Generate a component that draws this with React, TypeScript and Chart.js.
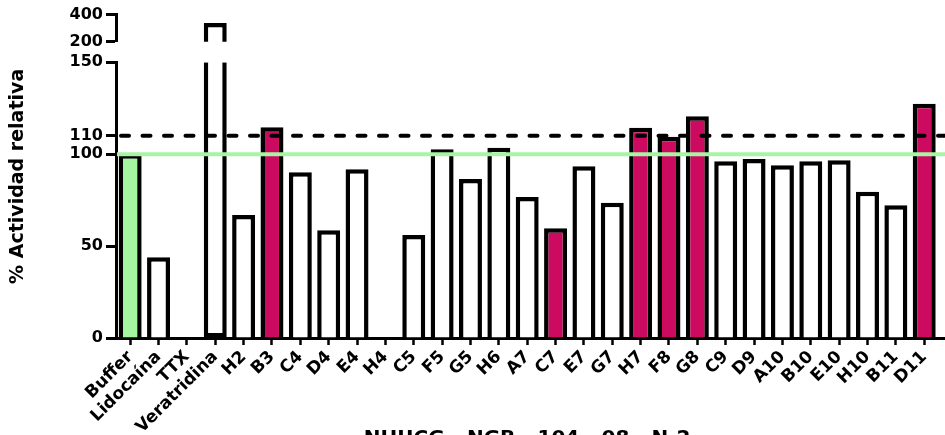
import React, { useEffect, useRef } from 'react';
import { Chart, registerables } from 'chart.js';

Chart.register(...registerables);

// ---------- data ----------
const categories = [
  'Buffer', 'Lidocaína', 'TTX', 'Veratridina', 'H2', 'B3', 'C4', 'D4', 'E4', 'H4',
  'C5', 'F5', 'G5', 'H6', 'A7', 'C7', 'E7', 'G7', 'H7', 'F8',
  'G8', 'C9', 'D9', 'A10', 'B10', 'E10', 'H10', 'B11', 'D11',
];
const activity = [
  100, 43.9, 0, 338, 66.9, 114.6, 90.2, 58.6, 91.8, 0,
  56.0, 102.7, 86.5, 103.5, 76.7, 59.7, 93.4, 73.6, 114.4, 109.5,
  120.6, 96.1, 97.4, 94.0, 96.1, 96.7, 79.6, 72.2, 127.5,
];
const controlCategory = 'Buffer';
const highlighted = ['B3', 'C7', 'H7', 'F8', 'G8', 'D11'];
const lowerTicks = [0, 50, 100, 110, 150];
const upperTicks = [200, 400];
const bufferLevel = 100;
const thresholdLevel = 110;
const yTitle = '% Actividad relativa';
const xTitle = 'NHUCG - NGB - 104 - 08 - N-2';

// ---------- styles ----------
const FONT = 'DejaVu Sans';
const GREEN_FILL = '#a4f5a0';
const GREEN_LINE = '#a8f4a4';
const MAGENTA = '#cc0a5f';
const BLACK = '#000000';

const lowerMin = lowerTicks[0];
const lowerMax = lowerTicks[lowerTicks.length - 1];
const upperMin = upperTicks[0];
const upperMax = upperTicks[upperTicks.length - 1];

const fillFor = (i: number) => {
  const c = categories[i];
  if (c === controlCategory) return GREEN_FILL;
  if (highlighted.includes(c)) return MAGENTA;
  return '#ffffff';
};

const refLinesPlugin = {
  id: 'refLines',
  afterDatasetsDraw(chart: any) {
    const { ctx, chartArea } = chart;
    const y = chart.scales.y;
    ctx.save();
    // continuation of the x axis line to the right edge
    const by = Math.round(chartArea.bottom - 1.5) + 1.5;
    ctx.strokeStyle = BLACK;
    ctx.lineWidth = 3;
    ctx.beginPath();
    ctx.moveTo(chartArea.right - 2, by);
    ctx.lineTo(chart.width, by);
    ctx.stroke();
    // buffer reference line
    const gy = y.getPixelForValue(bufferLevel);
    ctx.strokeStyle = GREEN_LINE;
    ctx.lineWidth = 4;
    ctx.beginPath();
    ctx.moveTo(chartArea.left + 1, gy);
    ctx.lineTo(chart.width, gy);
    ctx.stroke();
    // threshold dashed line
    const dy = y.getPixelForValue(thresholdLevel);
    ctx.strokeStyle = BLACK;
    ctx.lineWidth = 4;
    ctx.lineCap = 'round';
    ctx.setLineDash([8, 13.5]);
    ctx.beginPath();
    ctx.moveTo(chartArea.left + 5, dy);
    ctx.lineTo(chart.width, dy);
    ctx.stroke();
    ctx.restore();
  },
};

const tickFont = { family: FONT, size: 16, weight: 'bold' as const };
const Y_SCALE_WIDTH = 86.6;

const yCommon = {
  type: 'linear' as const,
  position: 'left' as const,
  stack: 'activity',
  grid: { display: true, drawOnChartArea: false, tickLength: 10, tickWidth: 3, tickColor: BLACK },
  border: { display: true, color: BLACK, width: 3 },
  ticks: { padding: 3, color: BLACK, font: tickFont, autoSkip: false },
  afterFit: (s: any) => { s.width = Y_SCALE_WIDTH; },
};

const barStyle = {
  backgroundColor: (c: any) => fillFor(c.dataIndex),
  borderColor: BLACK,
  borderWidth: 4.5,
  barPercentage: 0.81,
  categoryPercentage: 1,
  grouped: false,
};

export default function App() {
  const ref = useRef<HTMLCanvasElement | null>(null);

  useEffect(() => {
    if (!ref.current) return;
    const chart = new Chart(ref.current, {
      type: 'bar',
      data: {
        labels: categories,
        datasets: [
          {
            ...barStyle,
            data: activity.map((v) => Math.min(v, lowerMax)),
            yAxisID: 'y',
            borderSkipped: (c: any) => (activity[c.dataIndex] > lowerMax ? 'end' : 'start'),
          } as any,
          {
            ...barStyle,
            data: activity.map((v) => (v > lowerMax ? v : null)),
            yAxisID: 'y2',
            borderSkipped: 'start',
          } as any,
        ],
      },
      options: {
        responsive: false,
        animation: false,
        devicePixelRatio: 1,
        layout: { padding: { top: 14.7, right: 6.6, bottom: 0, left: 0 } },
        plugins: {
          legend: { display: false },
          tooltip: { enabled: false },
          title: {
            display: true,
            position: 'left',
            fullSize: false,
            text: yTitle,
            color: BLACK,
            font: { family: FONT, size: 19, weight: 'bold' },
            padding: { top: 6.6, bottom: 0 },
          },
        },
        scales: {
          x: {
            type: 'category',
            offset: true,
            grid: { display: true, drawOnChartArea: false, offset: false, tickLength: 7, tickWidth: 2.5, tickColor: BLACK },
            border: { display: true, color: BLACK, width: 3 },
            ticks: {
              autoSkip: false,
              maxRotation: 45,
              minRotation: 45,
              padding: 2,
              color: BLACK,
              font: { family: FONT, size: 17, weight: 'bold' },
            },
            title: {
              display: true,
              text: xTitle,
              color: BLACK,
              font: { family: FONT, size: 20, weight: 'bold' },
              padding: { top: 0, bottom: 1.5 },
            },
            afterFit: (s: any) => { s.height = 114; },
          },
          y: {
            ...yCommon,
            stackWeight: 275.7,
            min: lowerMin,
            max: lowerMax,
            afterBuildTicks: (s: any) => { s.ticks = lowerTicks.map((value) => ({ value })); },
          },
          ygap: {
            type: 'linear',
            position: 'left',
            stack: 'activity',
            stackWeight: 20.6,
            min: 0,
            max: 1,
            grid: { display: false },
            border: { display: false },
            ticks: { display: false },
            afterFit: (s: any) => { s.width = Y_SCALE_WIDTH; },
          },
          y2: {
            ...yCommon,
            stackWeight: 27,
            min: upperMin,
            max: upperMax,
            afterBuildTicks: (s: any) => { s.ticks = upperTicks.map((value) => ({ value })); },
          },
        },
      } as any,
      plugins: [refLinesPlugin],
    });
    return () => chart.destroy();
  }, []);

  return (
    <div style={{ position: 'fixed', left: 0, top: 0, width: 945, height: 435, overflow: 'hidden', background: '#fff' }}>
      <canvas ref={ref} width={945} height={452} style={{ display: 'block', width: 945, height: 452 }} />
    </div>
  );
}
